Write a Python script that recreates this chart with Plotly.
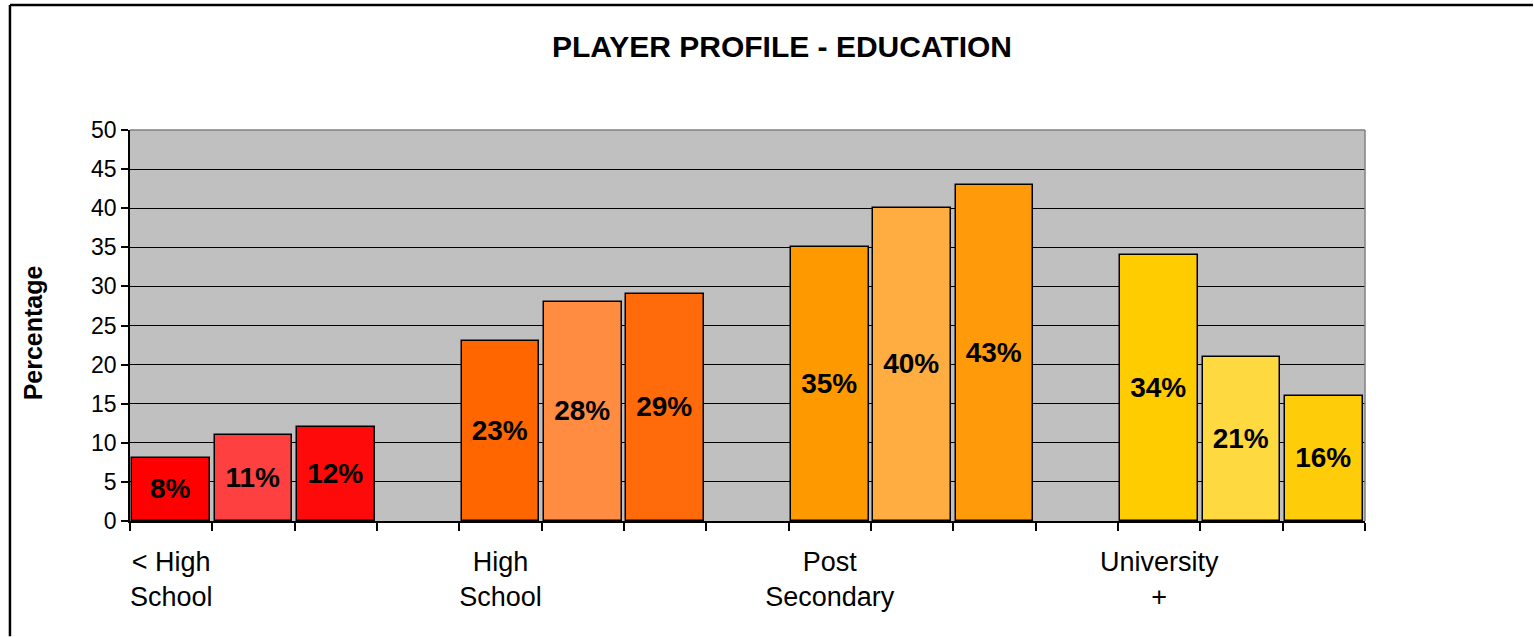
import plotly.graph_objects as go

# ---- data ----
categories = ["< High<br>School", "High<br>School", "Post<br>Secondary", "University<br>+"]
series_names = ["Series 1", "Series 2", "Series 3"]
series_1 = [8, 23, 35, 34]
series_2 = [11, 28, 40, 21]
series_3 = [12, 29, 43, 16]
y_ticks = [0, 5, 10, 15, 20, 25, 30, 35, 40, 45, 50]

# colours per category (group) for each series
colors_1 = ["#FF0000", "#FF6600", "#FF9900", "#FFCC00"]
colors_2 = ["#FF4040", "#FF8C40", "#FFAD40", "#FFD940"]
colors_3 = ["#FF0A0A", "#FF6A0A", "#FF9B0A", "#FFCC0A"]

FONT = "Liberation Sans, Arial, sans-serif"
GROUP_STRIDE = 4  # 3 bars + one empty slot per category

all_series = [series_1, series_2, series_3]
all_colors = [colors_1, colors_2, colors_3]

fig = go.Figure()
for j, (vals, cols, name) in enumerate(zip(all_series, all_colors, series_names)):
    xs = [GROUP_STRIDE * i + j for i in range(len(categories))]
    fig.add_trace(go.Bar(
        x=xs, y=vals, name=name, width=0.94,
        marker=dict(color=cols, line=dict(color="black", width=1.5)),
        text=[f"{v}%" for v in vals],
        textposition="inside", insidetextanchor="middle",
        textangle=0,
        textfont=dict(family=FONT, size=28, color="black", weight="bold"),
        showlegend=False,
    ))

n_slots = GROUP_STRIDE * (len(categories) - 1) + 3
fig.update_layout(
    width=1534, height=637,
    margin=dict(l=130, r=169, t=130, b=116),
    paper_bgcolor="white", plot_bgcolor="#C0C0C0",
    bargap=0, barmode="overlay",
    uniformtext=dict(minsize=20, mode="show"),
    font=dict(family=FONT, color="black"),
    xaxis=dict(
        range=[-0.5, n_slots - 0.5],
        tickmode="array",
        tickvals=[GROUP_STRIDE * i for i in range(len(categories))],
        ticktext=categories,
        ticks="", showgrid=False, zeroline=False,
        showline=True, linecolor="black", linewidth=1.5,
        tickfont=dict(family=FONT, size=27, color="black"),
        ticklabelstandoff=16,
        minor=dict(tickmode="array",
                   tickvals=[k - 0.5 for k in range(n_slots + 1)],
                   ticks="outside", ticklen=8, tickwidth=1.5,
                   tickcolor="black", showgrid=False),
    ),
    yaxis=dict(
        range=[0, 50], tickmode="array", tickvals=y_ticks,
        ticks="outside", ticklen=7, tickwidth=1.5, tickcolor="black",
        showline=True, linecolor="black", linewidth=1.5,
        showgrid=True, gridcolor="black", gridwidth=1,
        zeroline=False,
        tickfont=dict(family=FONT, size=23, color="black"),
    ),
    annotations=[
        dict(text="<b>PLAYER PROFILE - EDUCATION</b>", xref="paper", yref="paper",
             x=0.528, y=1.2123, xanchor="center", yanchor="middle", showarrow=False,
             font=dict(family=FONT, size=30, color="black")),
        dict(text="<b>Percentage</b>", xref="paper", yref="paper",
             x=-0.0785, y=0.48, xanchor="center", yanchor="middle", showarrow=False,
             textangle=-90, font=dict(family=FONT, size=25, color="black")),
    ],
    shapes=[
        dict(type="line", xref="paper", yref="paper", x0=0, x1=1, y0=1, y1=1,
             line=dict(color="#808080", width=1.5), layer="above"),
        dict(type="line", xref="paper", yref="paper", x0=1, x1=1, y0=0, y1=1,
             line=dict(color="#808080", width=1.5), layer="above"),
        # outer chart border (left and top edges visible), kept inside the page
        dict(type="line", xref="paper", yref="paper",
             x0=-0.0972, x1=-0.0972, y0=-0.295, y1=1.3197,
             line=dict(color="black", width=2.5), layer="above"),
        dict(type="line", xref="paper", yref="paper",
             x0=-0.0972, x1=1.136, y0=1.3197, y1=1.3197,
             line=dict(color="black", width=2.5), layer="above"),
    ],
)

fig.write_html("out.html")
